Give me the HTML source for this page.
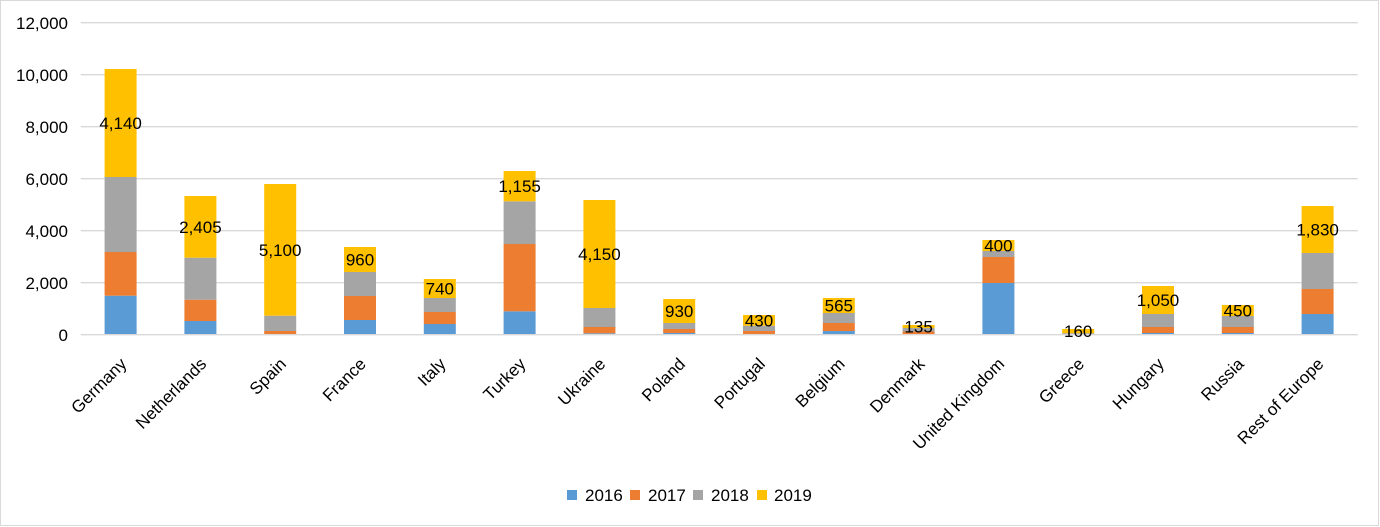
<!DOCTYPE html>
<html><head><meta charset="utf-8"><style>
html,body{margin:0;padding:0;background:#fff;}
svg{display:block;}
text{font-family:"Liberation Sans",Arial,sans-serif;fill:#000;}
</style></head><body>
<svg width="1380" height="527" viewBox="0 0 1380 527" xmlns="http://www.w3.org/2000/svg">
<rect x="0.5" y="0.5" width="1378" height="525" fill="#fff" stroke="#d9d9d9" stroke-width="1"/>
<g stroke="#d9d9d9" stroke-width="1.3">
<line x1="80.7" x2="1357.7" y1="22.7" y2="22.7"/>
<line x1="80.7" x2="1357.7" y1="74.7" y2="74.7"/>
<line x1="80.7" x2="1357.7" y1="126.7" y2="126.7"/>
<line x1="80.7" x2="1357.7" y1="178.7" y2="178.7"/>
<line x1="80.7" x2="1357.7" y1="230.7" y2="230.7"/>
<line x1="80.7" x2="1357.7" y1="282.7" y2="282.7"/>
</g>
<g font-size="17" text-anchor="end">
<text x="68" y="29">12,000</text>
<text x="68" y="81">10,000</text>
<text x="68" y="133">8,000</text>
<text x="68" y="185">6,000</text>
<text x="68" y="237">4,000</text>
<text x="68" y="289">2,000</text>
<text x="68" y="341">0</text>
</g>
<g id="bars"></g>
<line x1="80.7" x2="1357.7" y1="334.7" y2="334.7" stroke="#d9d9d9" stroke-width="1.3"/>
<g id="labels" font-size="17"></g>
<g font-size="17">
<rect x="567" y="490" width="10" height="10" fill="#5B9BD5"/><text x="585" y="501">2016</text>
<rect x="630" y="490" width="10" height="10" fill="#ED7D31"/><text x="648" y="501">2017</text>
<rect x="693" y="490" width="10" height="10" fill="#A5A5A5"/><text x="711" y="501">2018</text>
<rect x="757" y="490" width="10" height="10" fill="#FFC000"/><text x="774" y="501">2019</text>
</g>
</svg>
<script>
(function(){
var NS="http://www.w3.org/2000/svg";
var y0=334.7;
var data=[
["Germany",295.7,252,177,69,"4,140"],
["Netherlands",321,299.7,257.7,196,"2,405"],
["Spain",334.7,331,315.7,184,"5,100"],
["France",320,296,272,247,"960"],
["Italy",324,312,298,279,"740"],
["Turkey",311.3,244,201.3,171,"1,155"],
["Ukraine",333.3,327,308,200,"4,150"],
["Poland",333,329,323,299,"930"],
["Portugal",334.2,331,325.7,315,"430"],
["Belgium",331,323,313,298,"565"],
["Denmark",334.5,331.5,328,325,"135"],
["United Kingdom",283,257,251,240,"400"],
["Greece",334.7,334.2,333.2,329,"160"],
["Hungary",333,327,314,286,"1,050"],
["Russia",333,327,316,305,"450"],
["Rest of Europe",314,289,253,206,"1,830"]
];
var cols=["#5B9BD5","#ED7D31","#A5A5A5","#FFC000"];
var bars=document.getElementById("bars"),labels=document.getElementById("labels");
data.forEach(function(d,i){
var cx=120.6+79.8*i;
var prev=y0;
for(var k=0;k<4;k++){
var top=d[k+1];
if(prev-top>0.05){
var r=document.createElementNS(NS,"rect");
r.setAttribute("x",cx-16);r.setAttribute("width",32);
r.setAttribute("y",top);r.setAttribute("height",prev-top);
r.setAttribute("fill",cols[k]);bars.appendChild(r);
}
prev=top;
}
var t=document.createElementNS(NS,"text");
t.setAttribute("x",cx);t.setAttribute("y",(d[3]+d[4])/2+6);
t.setAttribute("text-anchor","middle");t.textContent=d[5];labels.appendChild(t);
var c=document.createElementNS(NS,"text");
var ex=cx+7,ey=365;
c.setAttribute("x",ex);c.setAttribute("y",ey);
c.setAttribute("text-anchor","end");
c.setAttribute("transform","rotate(-45 "+ex+" "+ey+")");
c.textContent=d[0];labels.appendChild(c);
});
})();
</script>
</body></html>
